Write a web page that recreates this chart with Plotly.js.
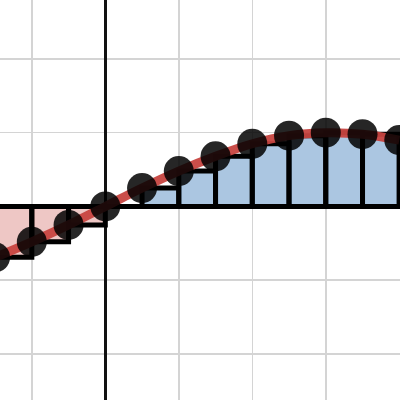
<!DOCTYPE html>
<html>
<head>
<meta charset="utf-8">
<script src="https://cdn.plot.ly/plotly-3.0.1.min.js"></script>
<style>html,body{margin:0;padding:0;background:#fff}#chart{width:400px;height:400px}</style>
</head>
<body>
<div id="chart"></div>
<script>
// sample (left endpoint) positions and function values
var sampleX = [-1.5, -1, -0.5, 0, 0.5, 1, 1.5, 2, 2.5, 3, 3.5, 4];
var sampleY = [-0.69, -0.48, -0.25, 0, 0.25, 0.48, 0.68, 0.85, 0.96, 1.0, 0.98, 0.9];
var stepWidth = 0.5;

var barColors = sampleY.map(function(v){ return v < 0 ? 'rgba(199,68,64,0.3)' : 'rgba(45,112,179,0.4)'; });

var bars = {
  type: 'bar',
  x: sampleX,
  y: sampleY,
  width: sampleX.map(function(){ return stepWidth; }),
  offset: 0,
  marker: {color: barColors, line: {color: '#000', width: 5}},
  hoverinfo: 'skip'
};
var curve = {
  type: 'scatter', mode: 'lines',
  x: sampleX, y: sampleY,
  line: {color: '#c74440', width: 9, shape: 'spline'},
  opacity: 0.95,
  hoverinfo: 'skip'
};
var pts = {
  type: 'scatter', mode: 'markers',
  x: sampleX, y: sampleY,
  marker: {color: 'rgba(0,0,0,0.85)', size: 30, line: {width: 0}},
  hoverinfo: 'skip'
};

var layout = {
  width: 400, height: 400,
  margin: {l: 0, r: 0, t: 0, b: 0},
  paper_bgcolor: '#fff', plot_bgcolor: '#fff',
  showlegend: false,
  bargap: 0,
  xaxis: {range: [-1.433, 4.01], dtick: 1, tick0: 0, showticklabels: false, ticks: '',
          showgrid: true, gridcolor: '#d4d4d4', gridwidth: 1.5,
          zeroline: true, zerolinecolor: '#111', zerolinewidth: 2.5, fixedrange: true},
  yaxis: {range: [-2.625, 2.80], dtick: 1, tick0: 0, showticklabels: false, ticks: '',
          showgrid: true, gridcolor: '#d4d4d4', gridwidth: 1.5,
          zeroline: true, zerolinecolor: '#000', zerolinewidth: 5, fixedrange: true}
};

Plotly.newPlot('chart', [bars, curve, pts], layout, {staticPlot: true, displayModeBar: false});
</script>
</body>
</html>
